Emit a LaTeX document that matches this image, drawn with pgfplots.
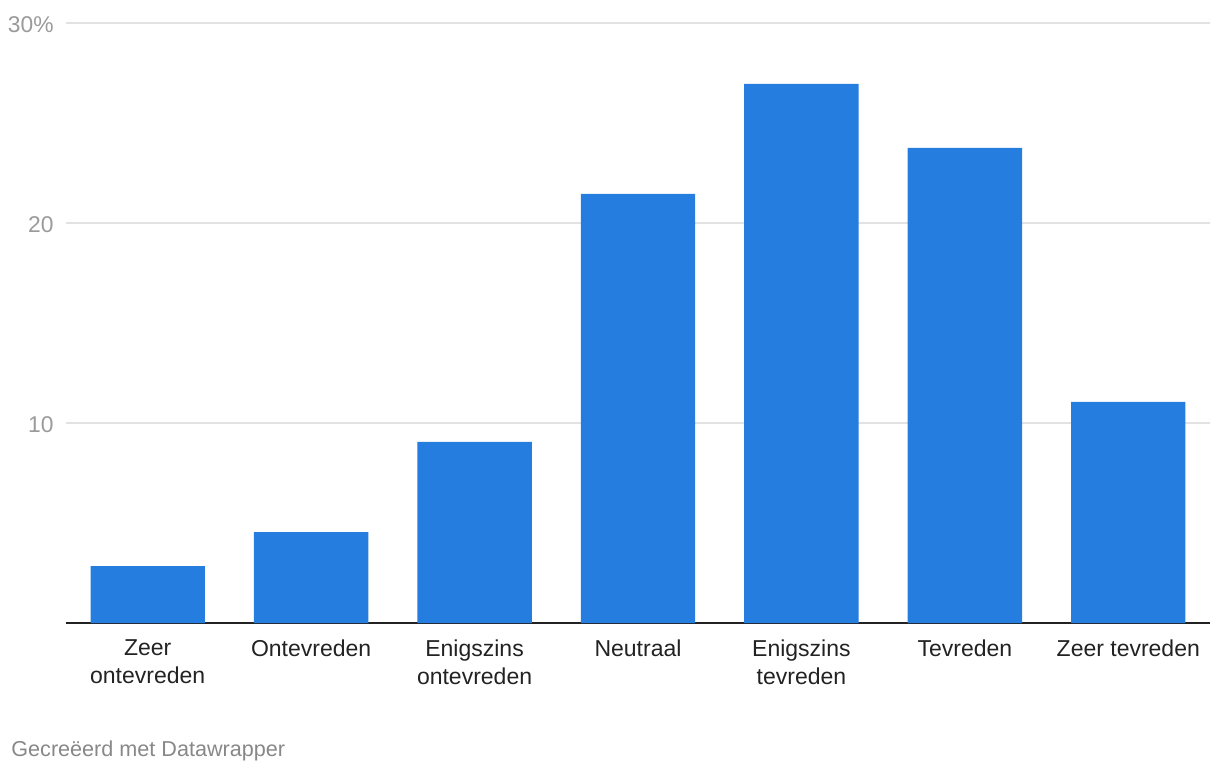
\documentclass[border=0pt]{standalone}
\usepackage{pgfplots}
\pgfplotsset{compat=1.18}
\usepackage{fontspec}
\setmainfont{Liberation Sans}
\definecolor{barblue}{HTML}{257DDF}
\definecolor{gridgray}{HTML}{E2E2E2}
\definecolor{ticklab}{HTML}{9A9A9A}
\definecolor{labdark}{HTML}{222222}
\definecolor{footgray}{HTML}{888888}
\begin{document}
\begin{tikzpicture}[x=1pt,y=1pt]
\path[use as bounding box] (0,0) rectangle (610,386);
\begin{axis}[
  at={(33pt,74.5pt)}, anchor=south west,
  scale only axis, width=572pt, height=300pt,
  xmin=-0.5, xmax=6.5, ymin=0, ymax=30,
  axis line style={draw=none},
  ytick={10,20,30}, yticklabels={10,20,30\%},
  ymajorgrids, grid style={gridgray, line width=0.6pt},
  major tick length=0pt,
  extra y ticks={0}, extra y tick labels={},
  extra y tick style={grid style={labdark, line width=1pt}},
  yticklabel style={font=\fontsize{11.4}{13}\selectfont, text=ticklab, anchor=east, inner sep=0pt, xshift=-6pt, yshift=-0.8pt},
  xtick=data,
  xticklabels={{Zeer\\ontevreden},Ontevreden,{Enigszins\\ontevreden},Neutraal,{Enigszins\\tevreden},Tevreden,{Zeer tevreden}},
  xticklabel style={font=\fontsize{11.5}{14.3}\selectfont, text=labdark, align=center, anchor=north, inner sep=0pt, yshift=-8pt},
  ybar, bar width=0.7,
  /pgf/bar shift=0pt,
  clip=false,
]
\addplot[fill=barblue, draw=none] coordinates {
 (0,2.85) (1,4.55) (2,9.05) (3,21.45) (4,26.95) (5,23.75) (6,11.05)
};
\end{axis}
\node[anchor=base west, inner sep=0pt, text=footgray, font=\fontsize{10.8}{12}\selectfont] at (5.5,8) {Gecreëerd met Datawrapper};
\end{tikzpicture}
\end{document}
